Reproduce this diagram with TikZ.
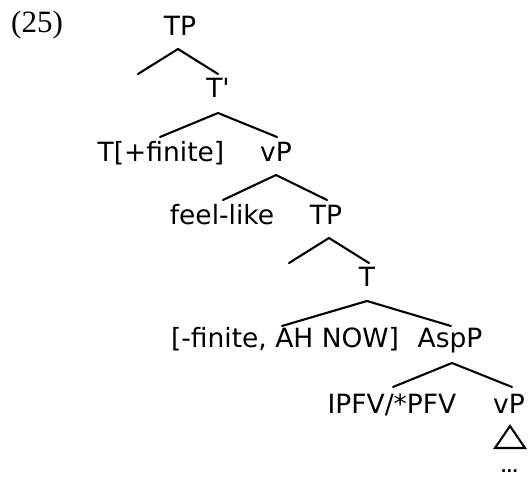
\documentclass[tikz,border=0pt]{standalone}
\usepackage{fontspec}
\setmainfont{DejaVu Sans}
\newfontfamily\labfont{DejaVu Sans}[Ligatures=TeXOff]
\newfontfamily\exnumfont{Liberation Serif}
\begin{document}
\begin{tikzpicture}[x=1pt,y=-1pt,
  lab/.style={anchor=base,inner sep=0pt,font=\labfont\fontsize{26.5}{30}\selectfont},
  br/.style={line width=2.1pt,line cap=round,line join=round}]
\useasboundingbox[fill=white] (0,0) rectangle (528,478);
% example number
\node[anchor=base west,inner sep=0pt,font=\exnumfont\fontsize{31}{34}\selectfont] (ex) at (11,33) {(25)};
% labels
\node[lab] (tp1)  at (180,36)  {TP};
\node[lab] (tbar) at (218,98)  {T'};
\node[lab] (tfin) at (161,162) {T[+finite]};
\node[lab] (vp1)  at (276,162) {vP};
\node[lab] (feel) at (222,225) {feel-like};
\node[lab] (tp2)  at (326,225) {TP};
\node[lab] (t2)   at (367,287) {T};
\node[lab] (nfin) at (285,348) {[-finite, AH NOW]};
\node[lab] (asp)  at (450,348) {AspP};
\node[lab] (ipfv) at (392,414) {IPFV/*PFV};
\node[lab] (vp2)  at (509,414) {vP};
\node[anchor=base,inner sep=0pt,font=\labfont\bfseries\fontsize{15}{16}\selectfont] (dots) at (509.5,473) {...};
% branch points
\coordinate (a1) at (178,49);  \coordinate (l1) at (138,74);  \coordinate (r1) at (218,74);
\coordinate (a2) at (218,113); \coordinate (l2) at (160,137); \coordinate (r2) at (277,137);
\coordinate (a3) at (276,175); \coordinate (l3) at (223,200); \coordinate (r3) at (327,200);
\coordinate (a4) at (329,238); \coordinate (l4) at (289,263); \coordinate (r4) at (369,263);
\coordinate (a5) at (367,301); \coordinate (l5) at (282,326); \coordinate (r5) at (451,326);
\coordinate (a6) at (452,363); \coordinate (l6) at (393,387); \coordinate (r6) at (512,387);
\draw[br] (l1) -- (a1) -- (r1);
\draw[br] (l2) -- (a2) -- (r2);
\draw[br] (l3) -- (a3) -- (r3);
\draw[br] (l4) -- (a4) -- (r4);
\draw[br] (l5) -- (a5) -- (r5);
\draw[br] (l6) -- (a6) -- (r6);
% triangle
\coordinate (ta) at (510,426); \coordinate (tl) at (495,448); \coordinate (tr) at (525,448);
\draw[br,line join=miter] (ta) -- (tl) -- (tr) -- cycle;
\end{tikzpicture}
\end{document}
